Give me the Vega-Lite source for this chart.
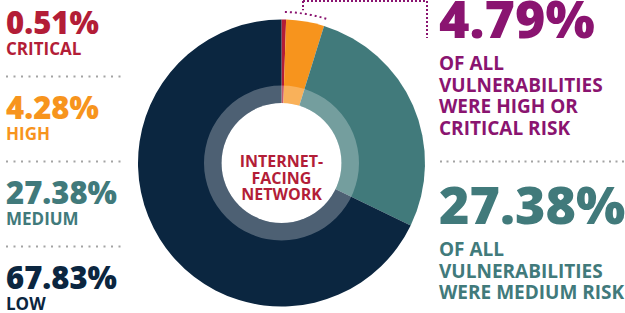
{
  "$schema": "https://vega.github.io/schema/vega-lite/v6.json",
  "width": 625,
  "height": 313,
  "autosize": {"type": "none"},
  "padding": 0,
  "background": "white",
  "config": {
    "view": {"stroke": null},
    "text": {"font": "Open Sans", "fontWeight": 700}
  },
  "datasets": {
    "risks": [
      {"risk": "CRITICAL", "share": 0.0051},
      {"risk": "HIGH", "share": 0.0428},
      {"risk": "MEDIUM", "share": 0.2738},
      {"risk": "LOW", "share": 0.6783}
    ],
    "separators": [
      {"risk": "CRITICAL/HIGH"},
      {"risk": "HIGH/MEDIUM"},
      {"risk": "MEDIUM/LOW"}
    ],
    "rightSeparator": [
      {"risk": "HIGH/MEDIUM"}
    ],
    "notes": [
      {"risk": "HIGH OR CRITICAL", "share": 0.0479, "caption": "OF ALL\nVULNERABILITIES\nWERE HIGH OR\nCRITICAL RISK"},
      {"risk": "MEDIUM", "share": 0.2738, "caption": "OF ALL\nVULNERABILITIES\nWERE MEDIUM RISK"}
    ],
    "center": [
      {"label": "INTERNET-\nFACING\nNETWORK"}
    ]
  },
  "resolve": {"scale": {"x": "independent", "y": "independent", "theta": "independent"}},
  "layer": [
    {
      "encoding": {
        "x": {"datum": "INTERNET-FACING NETWORK", "type": "nominal", "scale": {"type": "point", "range": [138, 425]}, "axis": null},
        "y": {"datum": "INTERNET-FACING NETWORK", "type": "nominal", "scale": {"type": "point", "range": [19.5, 306.5]}, "axis": null}
      },
      "layer": [
        {
          "data": {"name": "risks"},
          "mark": {"type": "arc", "outerRadius": 143.5},
          "encoding": {
            "theta": {"field": "share", "type": "quantitative", "stack": true, "scale": {"domain": [0, 1]}},
            "order": {"field": "share", "sort": "ascending"},
            "color": {"field": "risk", "type": "nominal", "legend": null,
              "scale": {"domain": ["CRITICAL", "HIGH", "MEDIUM", "LOW", "HIGH OR CRITICAL"], "range": ["#b31d37", "#f7941d", "#417a7b", "#0b2640", "#8a1470"]}}
          }
        },
        {
          "data": {"name": "center"},
          "mark": {"type": "arc", "innerRadius": 60, "outerRadius": 77.5, "theta": 0, "theta2": 6.2832, "fill": "white", "fillOpacity": 0.27}
        },
        {
          "data": {"name": "center"},
          "mark": {"type": "arc", "outerRadius": 60, "theta": 0, "theta2": 6.2832, "fill": "white"}
        },
        {
          "data": {"name": "center"},
          "mark": {"type": "text", "lineBreak": "\n", "lineHeight": 16.5, "fontSize": 16, "color": "#b31d37", "align": "center", "baseline": "middle", "dy": -1},
          "encoding": {"text": {"field": "label"}}
        },
        {
          "data": {"name": "notes"},
          "transform": [{"filter": "datum.risk === 'HIGH OR CRITICAL'"}],
          "mark": {"type": "arc", "outerRadius": 151, "innerRadius": 151, "filled": false, "stroke": "#8a1470", "strokeWidth": 2,
            "strokeDash": [2, 3, 2, 3, 2, 3, 2, 3, 2, 3, 2, 3, 2, 3, 2, 3, 2, 120]},
          "encoding": {
            "theta": {"field": "share", "type": "quantitative", "stack": true, "scale": {"domain": [0, 1]}}
          }
        }
      ]
    },
    {
      "resolve": {"scale": {"x": "independent"}},
      "encoding": {
        "y": {"field": "risk", "type": "nominal", "axis": null,
          "scale": {"type": "point", "padding": 0, "range": [34, 289],
            "domain": ["CRITICAL", "CRITICAL/HIGH", "HIGH", "HIGH/MEDIUM", "MEDIUM", "MEDIUM/LOW", "LOW"]}}
      },
      "layer": [
        {
          "encoding": {
            "x": {"datum": 0, "type": "quantitative", "scale": {"domain": [0, 1], "range": [6, 121]}, "axis": null}
          },
          "layer": [
            {
              "data": {"name": "risks"},
              "mark": {"type": "text", "align": "left", "baseline": "alphabetic", "fontSize": 31, "fontWeight": 800},
              "encoding": {
                "text": {"field": "share", "type": "quantitative", "format": ".2%"},
                "color": {"field": "risk", "type": "nominal", "legend": null,
                  "scale": {"domain": ["CRITICAL", "HIGH", "MEDIUM", "LOW", "HIGH OR CRITICAL"], "range": ["#b31d37", "#f7941d", "#417a7b", "#0b2640", "#8a1470"]}}
              }
            },
            {
              "data": {"name": "risks"},
              "mark": {"type": "text", "align": "left", "baseline": "alphabetic", "fontSize": 17, "dy": 21},
              "encoding": {
                "text": {"field": "risk", "type": "nominal"},
                "color": {"field": "risk", "type": "nominal", "legend": null,
                  "scale": {"domain": ["CRITICAL", "HIGH", "MEDIUM", "LOW", "HIGH OR CRITICAL"], "range": ["#b31d37", "#f7941d", "#417a7b", "#0b2640", "#8a1470"]}}
              }
            },
            {
              "data": {"name": "separators"},
              "mark": {"type": "rule", "color": "#a3a3a3", "strokeWidth": 2, "strokeDash": [2, 5.5]},
              "encoding": {
                "x2": {"datum": 1}
              }
            }
          ]
        },
        {
          "data": {"name": "rightSeparator"},
          "mark": {"type": "rule", "color": "#a3a3a3", "strokeWidth": 2, "strokeDash": [2, 4.5]},
          "encoding": {
            "x": {"datum": 0, "type": "quantitative", "scale": {"domain": [0, 1], "range": [440, 625]}, "axis": null},
            "x2": {"datum": 1}
          }
        }
      ]
    },
    {
      "data": {"name": "notes"},
      "encoding": {
        "x": {"datum": 0, "type": "quantitative", "scale": {"domain": [0, 1], "range": [439, 625]}, "axis": null},
        "y": {"field": "risk", "type": "nominal", "axis": null,
          "scale": {"type": "point", "padding": 0, "range": [38, 224], "domain": ["HIGH OR CRITICAL", "MEDIUM"]}},
        "color": {"field": "risk", "type": "nominal", "legend": null,
          "scale": {"domain": ["CRITICAL", "HIGH", "MEDIUM", "LOW", "HIGH OR CRITICAL"], "range": ["#b31d37", "#f7941d", "#417a7b", "#0b2640", "#8a1470"]}}
      },
      "layer": [
        {
          "mark": {"type": "text", "align": "left", "baseline": "alphabetic", "fontSize": 52, "fontWeight": 800},
          "encoding": {"text": {"field": "share", "type": "quantitative", "format": ".2%"}}
        },
        {
          "mark": {"type": "text", "align": "left", "baseline": "alphabetic", "fontSize": 19, "dy": 32, "lineBreak": "\n", "lineHeight": 21.7},
          "encoding": {"text": {"field": "caption", "type": "nominal"}}
        }
      ]
    },
    {
      "data": {"name": "notes"},
      "transform": [{"filter": "datum.risk === 'HIGH OR CRITICAL'"}],
      "encoding": {
        "x": {"datum": 0, "type": "quantitative", "scale": {"domain": [0, 1], "range": [303, 427]}, "axis": null},
        "y": {"datum": 0, "type": "quantitative", "scale": {"domain": [0, 1], "range": [1, 38]}, "axis": null}
      },
      "layer": [
        {
          "mark": {"type": "rule", "color": "#8a1470", "strokeWidth": 2, "strokeDash": [2, 2]},
          "encoding": {"x2": {"datum": 1}}
        },
        {
          "mark": {"type": "rule", "color": "#8a1470", "strokeWidth": 2, "strokeDash": [2, 2]},
          "encoding": {"y2": {"datum": 0.25}}
        },
        {
          "mark": {"type": "rule", "color": "#8a1470", "strokeWidth": 2, "strokeDash": [2, 2]},
          "encoding": {"x": {"datum": 1}, "y2": {"datum": 1}}
        }
      ]
    }
  ]
}
